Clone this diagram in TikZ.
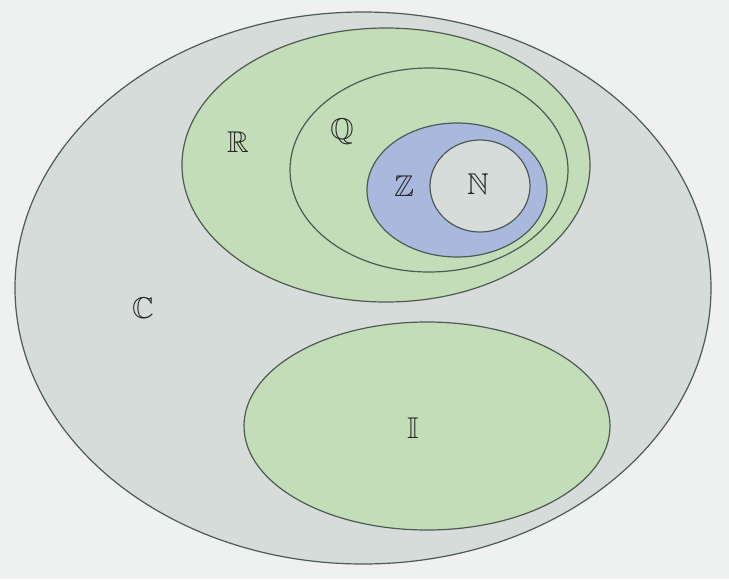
\documentclass[tikz,border=0pt]{standalone}
\usepackage{amssymb}
\definecolor{bg}{HTML}{EEF1EF}
\definecolor{cgray}{HTML}{D6DCD9}
\definecolor{gr}{HTML}{C2DDB7}
\definecolor{bl}{HTML}{A8B9DD}
\definecolor{ln}{HTML}{4E5A52}
\begin{document}
\begin{tikzpicture}[x=1pt,y=-1pt,
  setshape/.style={draw=ln,line width=1.2pt},
  lab/.style={text=black!85,font=\fontsize{30}{32}\selectfont}]
\fill[bg] (0,0) rectangle (729,579);
\useasboundingbox (0,0) rectangle (729,579);
\path[setshape,fill=cgray] (363,288) ellipse [x radius=348,y radius=276];
\path[setshape,fill=gr] (386,165) ellipse [x radius=204,y radius=137];
\path[setshape,fill=gr] (429,170) ellipse [x radius=139,y radius=102];
\path[setshape,fill=bl] (457,190) ellipse [x radius=90,y radius=67];
\path[setshape,fill=cgray] (480,186) ellipse [x radius=50,y radius=46];
\path[setshape,fill=gr] (427,426) ellipse [x radius=183,y radius=104];
\node[lab] (R) at (238,142) {$\mathbb{R}$};
\node[lab] (Q) at (342,132) {$\mathbb{Q}$};
\node[lab] (Z) at (404,186) {$\mathbb{Z}$};
\node[lab] (N) at (478,184) {$\mathbb{N}$};
\node[lab] (C) at (143,308) {$\mathbb{C}$};
\node[lab] (I) at (413,428) {$\mathbb{I}$};
\end{tikzpicture}
\end{document}
